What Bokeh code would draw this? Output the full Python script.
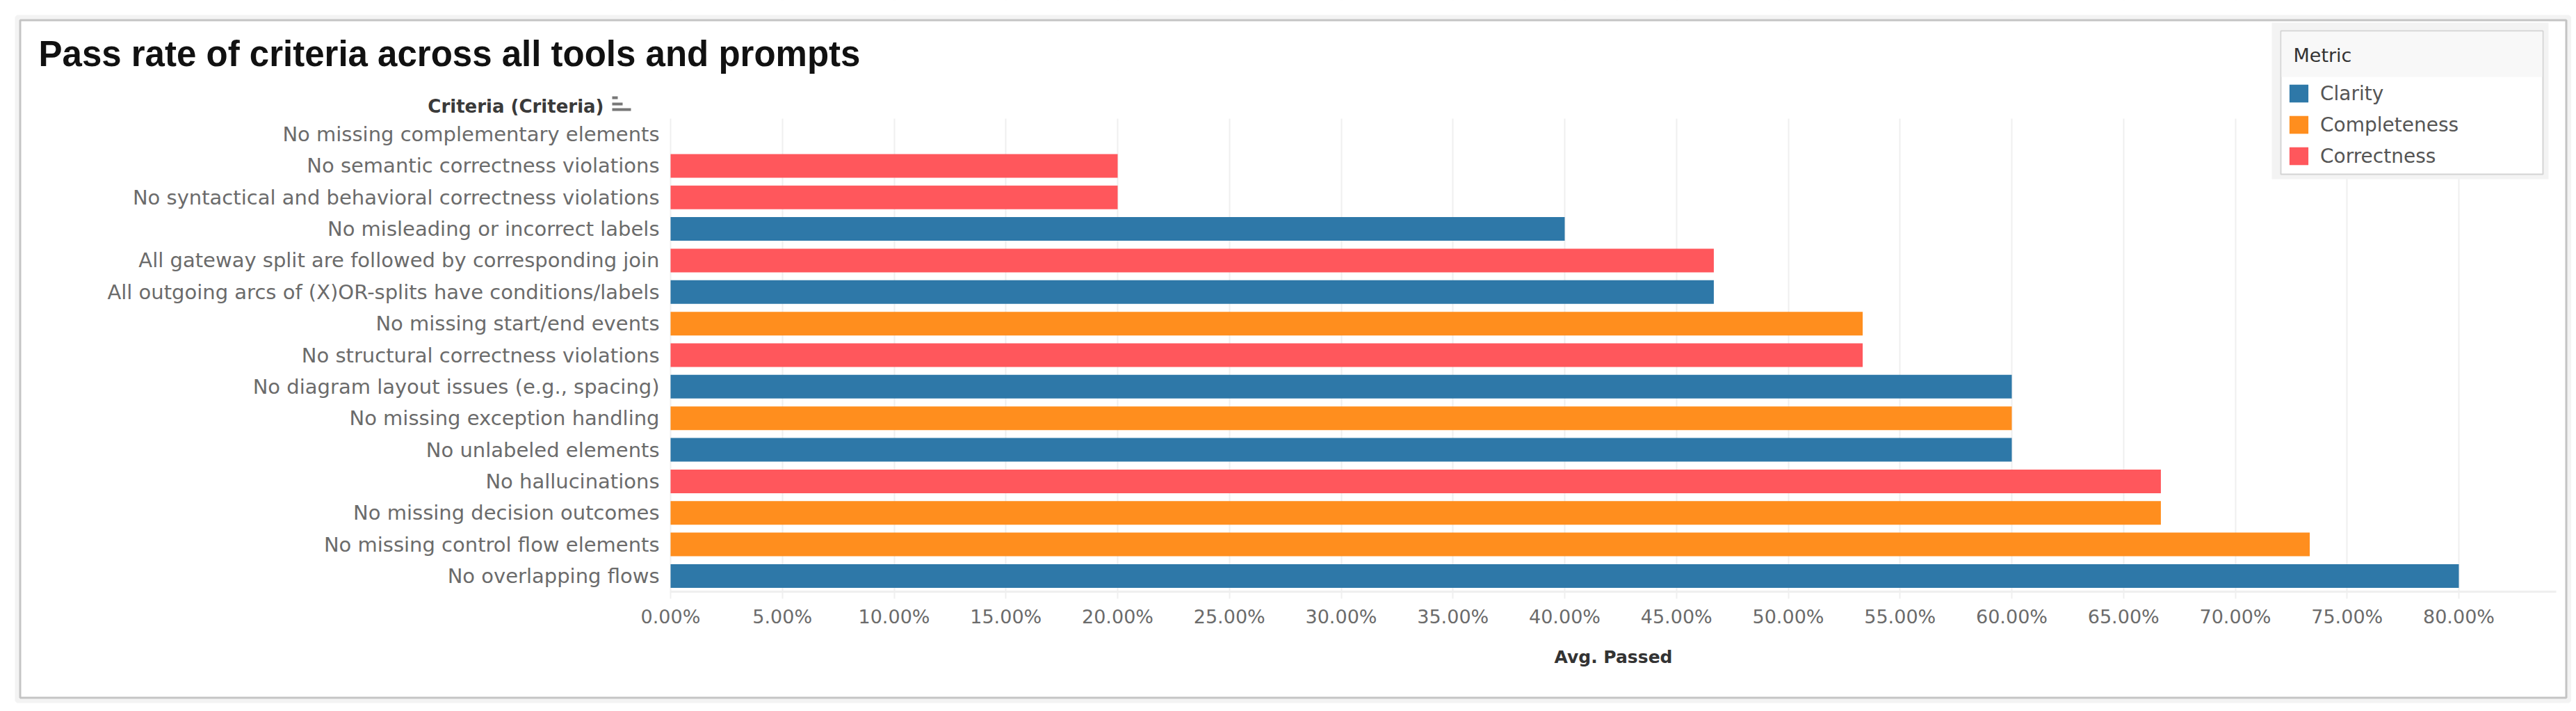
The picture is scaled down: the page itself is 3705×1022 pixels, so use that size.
from bokeh.plotting import figure
from bokeh.models import (FactorRange, Range1d, FixedTicker, NumeralTickFormatter, Label,
                          BoxAnnotation, Legend, LegendItem, ColumnDataSource)
from bokeh.embed import file_html
from bokeh.resources import INLINE

# ---------------- data ----------------
criteria = [
    "No missing complementary elements",
    "No semantic correctness violations",
    "No syntactical and behavioral correctness violations",
    "No misleading or incorrect labels",
    "All gateway split are followed by corresponding join",
    "All outgoing arcs of (X)OR-splits have conditions/labels",
    "No missing start/end events",
    "No structural correctness violations",
    "No diagram layout issues (e.g., spacing)",
    "No missing exception handling",
    "No unlabeled elements",
    "No hallucinations",
    "No missing decision outcomes",
    "No missing control flow elements",
    "No overlapping flows",
]
metric = [
    "Completeness", "Correctness", "Correctness", "Clarity", "Correctness",
    "Clarity", "Completeness", "Correctness", "Clarity", "Completeness",
    "Clarity", "Correctness", "Completeness", "Completeness", "Clarity",
]
avg_passed = [0.0, 0.20, 0.20, 0.40, 0.4667, 0.4667, 0.5333, 0.5333,
              0.60, 0.60, 0.60, 0.6667, 0.6667, 0.7333, 0.80]
metrics = ["Clarity", "Completeness", "Correctness"]
metric_colors = ["#2E78A8", "#FF8E1E", "#FF575C"]
x_ticks = [0.0, 0.05, 0.10, 0.15, 0.20, 0.25, 0.30, 0.35, 0.40,
           0.45, 0.50, 0.55, 0.60, 0.65, 0.70, 0.75, 0.80]
title_text = "Pass rate of criteria across all tools and prompts"
y_header = "Criteria (Criteria)"
x_title = "Avg. Passed"
legend_title = "Metric"

# ---------------- layout (frame = whole canvas) ----------------
W, H = 3700, 1020
X0_PX = 964.0          # pixel of 0 %
PX_PER_UNIT = 3215.0   # pixels per 100 %
ROW_PX = 45.35


def sx(px):
    return px


def sy(py):
    return H - py


pad = (H / ROW_PX - len(criteria)) / 2.0

p = figure(width=W, height=H, output_backend="svg", toolbar_location=None,
           y_range=FactorRange(factors=list(reversed(criteria)),
                               range_padding=pad, range_padding_units="absolute"),
           x_range=Range1d(-X0_PX / PX_PER_UNIT, (W - X0_PX) / PX_PER_UNIT),
           min_border=0, min_border_left=0, min_border_right=0,
           min_border_top=0, min_border_bottom=0)
p.title.visible = False
p.outline_line_color = None
p.background_fill_color = "white"
p.border_fill_color = "white"


def box(l, r, t, b, **kw):
    return BoxAnnotation(left=sx(l), right=sx(r), top=sy(t), bottom=sy(b),
                         left_units="screen", right_units="screen",
                         top_units="screen", bottom_units="screen", **kw)


# bars
items = []
for m, c in zip(metrics, metric_colors):
    idx = [i for i, mm in enumerate(metric) if mm == m]
    src = ColumnDataSource(dict(cat=[criteria[i] for i in idx],
                                val=[avg_passed[i] for i in idx]))
    r = p.hbar(y="cat", right="val", left=0, height=0.75, source=src,
               fill_color=c, line_color=None)
    items.append(LegendItem(label=m, renderers=[r]))

# grid (masked outside the rows area)
p.xgrid.grid_line_color = "#efefef"
p.xgrid.grid_line_width = 2
p.ygrid.grid_line_color = None
rows_top = H / 2.0 - len(criteria) * ROW_PX / 2.0
rows_bottom = H / 2.0 + len(criteria) * ROW_PX / 2.0
p.add_layout(box(900, 3700, -5, rows_top, fill_color="white", fill_alpha=1,
                 line_color=None, level="glyph"))
p.add_layout(box(900, 3700, rows_bottom + 0.5, H + 5, fill_color="white", fill_alpha=1,
                 line_color=None, level="glyph"))

# outer card frame (drawn over the masks)
p.add_layout(box(24, 3694.5, 24, 1007, fill_alpha=0, line_color="#f3f3f3",
                 line_alpha=1, line_width=6, level="guide"))
p.add_layout(box(28.5, 3690.5, 28.5, 1002.5, fill_alpha=0,
                 line_color="#c4c4c4", line_alpha=1, line_width=3, level="guide"))

# x axis fixed at the bottom of the rows
p.xaxis.fixed_location = 0
p.xaxis.bounds = (0, 0.8435)
p.xaxis.ticker = FixedTicker(ticks=x_ticks)
p.xaxis.formatter = NumeralTickFormatter(format="0.00%")
p.xaxis.axis_line_color = "#efefef"
p.xaxis.axis_line_width = 3
p.xaxis.major_tick_line_color = "#efefef"
p.xaxis.major_tick_line_width = 2
p.xaxis.major_tick_out = 10
p.xaxis.major_tick_in = 0
p.xaxis.minor_tick_line_color = None
p.xaxis.major_label_text_font = "DejaVu Sans"
p.xaxis.major_label_text_font_size = "27px"
p.xaxis.major_label_text_color = "#6b6b6b"
p.xaxis.major_label_standoff = 10
p.xaxis.axis_label = x_title
p.xaxis.axis_label_text_font = "DejaVu Sans"
p.xaxis.axis_label_text_font_style = "bold"
p.xaxis.axis_label_text_font_size = "25px"
p.xaxis.axis_label_text_color = "#333333"
p.xaxis.axis_label_standoff = 25

# y axis fixed at 0 %
p.yaxis.fixed_location = 0
p.yaxis.axis_line_color = None
p.yaxis.major_tick_line_color = None
p.yaxis.major_tick_out = 0
p.yaxis.major_tick_in = 0
p.yaxis.minor_tick_line_color = None
p.yaxis.major_label_text_font = "DejaVu Sans"
p.yaxis.major_label_text_font_size = "29px"
p.yaxis.major_label_text_color = "#6b6b6b"
p.yaxis.major_label_standoff = 16

# title & header
p.add_layout(Label(x=sx(55), y=sy(77), x_units="screen", y_units="screen",
                   text=title_text, text_font="Liberation Sans", text_font_style="bold",
                   text_font_size="51px", text_color="#111111", text_baseline="middle"))
p.add_layout(Label(x=sx(868), y=sy(152), x_units="screen", y_units="screen",
                   text=y_header, text_font="DejaVu Sans", text_font_size="26px",
                   text_font_style="bold", text_color="#3a3a3a", text_align="right",
                   text_baseline="middle"))
# sort icon
for (l, r_, t, b) in [(880, 888, 138, 142), (880, 895, 147, 151), (880, 907, 155, 159)]:
    p.add_layout(box(l, r_, t, b, fill_color="#777777", fill_alpha=1, line_color=None))

# legend card
p.add_layout(box(3267, 3665, 32, 257, fill_color="#f3f3f3", fill_alpha=1,
                 line_color=None, level="guide"))
p.add_layout(box(3280, 3657, 44, 250, fill_color="white", fill_alpha=1,
                 line_color="#d4d4d4", line_alpha=1, line_width=2, level="guide"))
p.add_layout(box(3281, 3656, 45, 110, fill_color="#f8f8f8", fill_alpha=1,
                 line_color=None, level="guide"))
p.add_layout(Label(x=sx(3298), y=sy(79), x_units="screen", y_units="screen",
                   text=legend_title, text_font="DejaVu Sans", text_font_size="27px",
                   text_color="#333333", text_baseline="middle"))

legend = Legend(items=items, location=(sx(3289), sy(240.5)), padding=0, margin=0,
                spacing=12, glyph_width=34, glyph_height=32, label_height=32,
                label_standoff=14, background_fill_alpha=0, border_line_color=None,
                label_text_font="DejaVu Sans", label_text_font_size="28px",
                label_text_color="#555555")
p.add_layout(legend)

open("out.html", "w").write(file_html(p, INLINE))
